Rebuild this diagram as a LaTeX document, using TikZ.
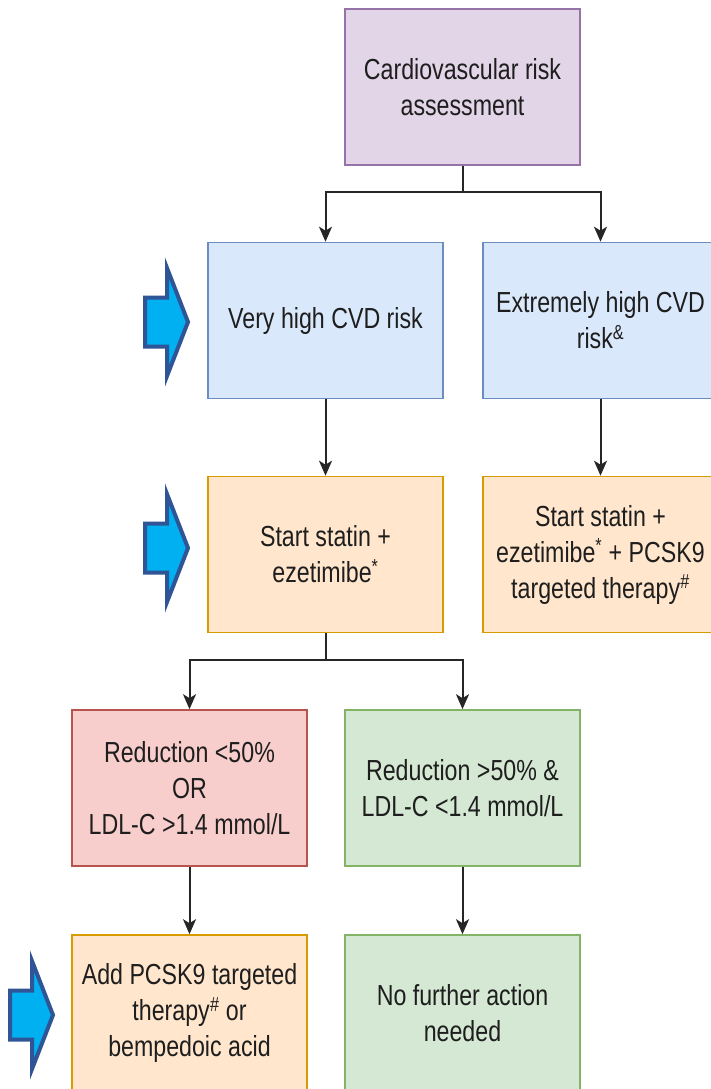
\documentclass[tikz,border=0pt]{standalone}
\usepackage{fontspec}
\setmainfont[FakeStretch=0.8]{Liberation Sans}
\usetikzlibrary{arrows.meta,calc}
\definecolor{purpleF}{HTML}{E1D5E7}\definecolor{purpleD}{HTML}{9673A6}
\definecolor{blueF}{HTML}{DAE8FC}\definecolor{blueD}{HTML}{6C8EBF}
\definecolor{orangeF}{HTML}{FFE6CC}\definecolor{orangeD}{HTML}{D79B00}
\definecolor{redF}{HTML}{F8CECC}\definecolor{redD}{HTML}{B85450}
\definecolor{greenF}{HTML}{D5E8D4}\definecolor{greenD}{HTML}{82B366}
\definecolor{arrowF}{HTML}{00B0F0}\definecolor{arrowD}{HTML}{2F5597}
\definecolor{txt}{HTML}{1E1E1E}
\begin{document}
\begin{tikzpicture}[x=1pt,y=-1pt,
  box/.style={draw, line width=1.6pt, minimum width=235pt, minimum height=156pt,
    inner sep=0pt, align=center, text=txt, font=\fontsize{29}{36}\selectfont},
  pbox/.style={box, fill=purpleF, draw=purpleD},
  bbox/.style={box, fill=blueF, draw=blueD},
  obox/.style={box, fill=orangeF, draw=orangeD},
  rbox/.style={box, fill=redF, draw=redD},
  gbox/.style={box, fill=greenF, draw=greenD},
  conn/.style={draw=black!85, line width=2pt, -{Stealth[length=15pt,width=13pt,inset=4pt]}},
  pointer/.pic={\draw[fill=arrowF, draw=arrowD, line width=4pt, line join=miter]
     (0,0) -- (-21,-54) -- (-21,-24.5) -- (-43,-24.5) -- (-43,24.5) -- (-21,24.5) -- (-21,54) -- cycle;}
]
\useasboundingbox (0,0) rectangle (711,1089);
\clip (0,0) rectangle (711,1089);
\fill[white] (0,0) rectangle (711,1089);

\node[pbox] (risk) at (462.5,87) {Cardiovascular risk\\assessment};
\node[bbox] (vh) at (325.5,320.5) {Very high CVD risk};
\node[bbox] (eh) at (600.5,320.5) {Extremely high CVD\\risk\textsuperscript{\&}};
\node[obox] (se) at (325.5,554.5) {Start statin +\\ezetimibe\textsuperscript{*}};
\node[obox] (sep) at (600.5,554.5) {Start statin +\\ezetimibe\textsuperscript{*} + PCSK9\\targeted therapy\textsuperscript{\textit{\#}}};
\node[rbox] (red) at (189.5,788) {Reduction <50\%\\OR\\LDL-C >1.4 mmol/L};
\node[gbox] (ok) at (462.5,788) {Reduction >50\% \&\\LDL-C <1.4 mmol/L};
\node[obox] (add) at (189.5,1013) {Add PCSK9 targeted\\therapy\textsuperscript{\textit{\#}} or\\bempedoic acid};
\node[gbox] (none) at (462.5,1013) {No further action\\needed};

\draw[conn] (risk.south) -- ++(0,26) -| (vh.north);
\draw[conn] (risk.south) -- ++(0,26) -| (eh.north);
\draw[conn] (vh.south) -- (se.north);
\draw[conn] (eh.south) -- (sep.north);
\draw[conn] (se.south) -- ++(0,27) -| (red.north);
\draw[conn] (se.south) -- ++(0,27) -| (ok.north);
\draw[conn] (red.south) -- (add.north);
\draw[conn] (ok.south) -- (none.north);

\pic (p1) at (188,322) {pointer};
\pic (p2) at (188,548) {pointer};
\pic (p3) at (53,1015) {pointer};
\end{tikzpicture}
\end{document}
